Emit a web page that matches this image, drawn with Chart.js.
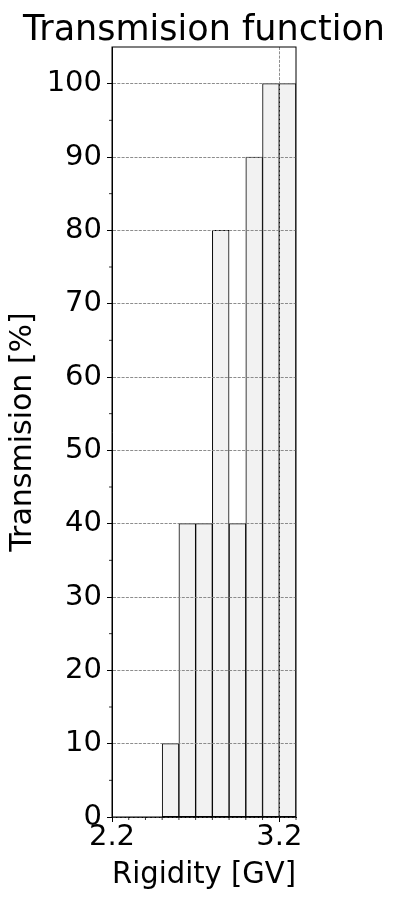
<!DOCTYPE html>
<html>
<head>
<meta charset="utf-8">
<script src="https://cdn.jsdelivr.net/npm/chart.js@4/dist/chart.umd.min.js"></script>
<style>
  html, body { margin: 0; padding: 0; background: #ffffff; }
  canvas { display: block; }
</style>
</head>
<body>
<canvas id="c" width="403" height="900"></canvas>
<script>
// ---- data ----
const binStarts    = [2.2, 2.3, 2.4, 2.5, 2.6, 2.7, 2.8, 2.9, 3.0, 3.1, 3.2];
const binWidth     = 0.1;
const transmission = [0, 0, 0, 10, 40, 40, 80, 40, 90, 100, 100];

const xMajorTicks = [2.2, 3.2];
const xMinorTicks = [2.3, 2.4, 2.5, 2.6, 2.7, 2.8, 2.9, 3.0, 3.1, 3.3];
const yMajorTicks = [0, 10, 20, 30, 40, 50, 60, 70, 80, 90, 100];
const yMinorTicks = [5, 15, 25, 35, 45, 55, 65, 75, 85, 95];

const titleText  = 'Transmision function';
const xLabelText = 'Rigidity [GV]';
const yLabelText = 'Transmision [%]';

const barPoints = binStarts.map((s, i) => ({ x: s + binWidth / 2, y: transmission[i] }));

Chart.defaults.font.family = "'DejaVu Sans', sans-serif";
Chart.defaults.color = '#000000';

const framePlugin = {
  id: 'frame',
  afterDraw(chart) {
    const { ctx, chartArea: a, scales } = chart;
    ctx.save();
    // minor ticks
    ctx.strokeStyle = '#000000';
    ctx.lineWidth = 0.8;
    ctx.beginPath();
    xMinorTicks.forEach(v => {
      const px = scales.x.getPixelForValue(v);
      ctx.moveTo(px, a.bottom);
      ctx.lineTo(px, a.bottom + 3);
    });
    yMinorTicks.forEach(v => {
      const py = scales.y.getPixelForValue(v);
      ctx.moveTo(a.left, py);
      ctx.lineTo(a.left - 3, py);
    });
    ctx.stroke();
    // box
    ctx.lineWidth = 1;
    ctx.strokeRect(a.left, a.top, a.right - a.left, a.bottom - a.top);
    // title
    ctx.fillStyle = '#000000';
    ctx.font = "35px 'DejaVu Sans', sans-serif";
    ctx.textAlign = 'center';
    ctx.textBaseline = 'alphabetic';
    ctx.fillText(titleText, (a.left + a.right) / 2, 40);
    ctx.restore();
  }
};

new Chart(document.getElementById('c'), {
  type: 'bar',
  data: {
    datasets: [{
      data: barPoints,
      backgroundColor: '#f2f2f2',
      borderColor: '#000000',
      borderWidth: 1,
      borderSkipped: false,
      barPercentage: 1.0,
      categoryPercentage: 1.0
    }]
  },
  options: {
    responsive: false,
    animation: false,
    devicePixelRatio: 1,
    layout: { padding: { top: 47, right: 107, left: 0, bottom: 0 } },
    plugins: {
      legend: { display: false },
      title: { display: false },
      tooltip: { enabled: false }
    },
    scales: {
      x: {
        type: 'linear',
        min: 2.2,
        max: 3.3,
        offset: false,
        afterBuildTicks(scale) { scale.ticks = xMajorTicks.map(v => ({ value: v })); },
        afterFit(scale) { scale.height = 83; },
        ticks: {
          font: { size: 29, lineHeight: 1 },
          padding: 1,
          maxRotation: 0,
          autoSkip: false,
          callback: (v) => Number(v).toFixed(1)
        },
        grid: {
          z: 1,
          offset: false,
          color: '#808080',
          lineWidth: 0.9,
          drawTicks: true,
          tickLength: 5,
          tickColor: '#000000',
          tickWidth: 1
        },
        border: { display: true, z: 1, color: '#000000', width: 1, dash: [3, 1.3] },
        title: {
          display: true,
          text: xLabelText,
          font: { size: 30, lineHeight: 1.2 },
          padding: { top: 0, bottom: 7 }
        }
      },
      y: {
        type: 'linear',
        min: 0,
        max: 105,
        afterBuildTicks(scale) { scale.ticks = yMajorTicks.map(v => ({ value: v })); },
        afterFit(scale) { scale.width = 112; },
        ticks: {
          font: { size: 29, lineHeight: 1 },
          padding: 5,
          autoSkip: false
        },
        grid: {
          z: 1,
          color: '#808080',
          lineWidth: 0.9,
          drawTicks: true,
          tickLength: 5,
          tickColor: '#000000',
          tickWidth: 1
        },
        border: { display: true, z: 1, color: '#000000', width: 1, dash: [3, 1.3] },
        title: {
          display: true,
          text: yLabelText,
          font: { size: 30, lineHeight: 1.2 },
          padding: { top: 5, bottom: 0 }
        }
      }
    }
  },
  plugins: [framePlugin]
});
</script>
</body>
</html>
